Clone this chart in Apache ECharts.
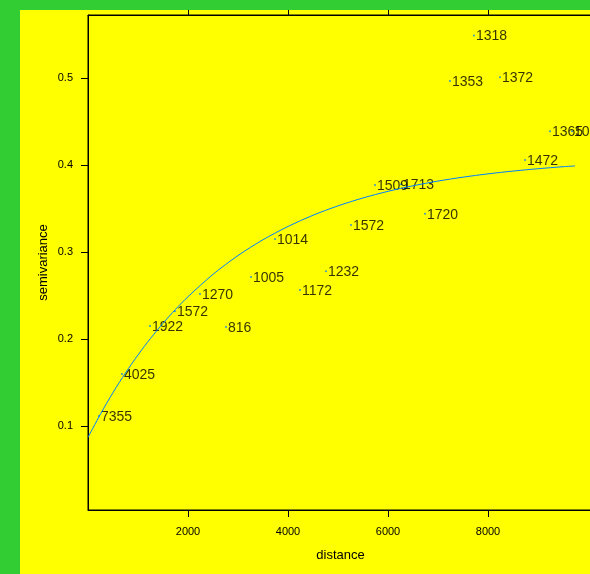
<!DOCTYPE html>
<html>
<head>
<meta charset="utf-8">
<script src="https://cdn.jsdelivr.net/npm/echarts@6/dist/echarts.min.js"></script>
<style>
  html, body { margin: 0; padding: 0; }
  body { width: 590px; height: 574px; background: #32cd32; position: relative; overflow: hidden; }
  #main { position: absolute; left: 20px; top: 10px; width: 576px; height: 564px; }
</style>
</head>
<body>
<div id="main"></div>
<script>
// sample variogram: distance, semivariance, number of pairs
var dist  = [220, 680, 1240, 1740, 2240, 2760, 3260, 3740, 4240, 4760, 5260, 5740, 6260, 6740, 7240, 7720, 8240, 8740, 9240, 9680];
var gamma = [0.1115, 0.1598, 0.215, 0.232, 0.2517, 0.2138, 0.2713, 0.315, 0.2563, 0.278, 0.331, 0.377, 0.378, 0.344, 0.4966, 0.549, 0.501, 0.4057, 0.439, 0.439];
var npairs = ['7355', '4025', '1922', '1572', '1270', '816', '1005', '1014', '1172', '1232', '1572', '1509', '1713', '1720', '1353', '1318', '1372', '1472', '1365', '1064'];

// fitted model line
var modelDist  = [0, 250, 500, 750, 1000, 1250, 1500, 1750, 2000, 2500, 3000, 3500, 4000, 4500, 5000, 5500, 6000, 6500, 7000, 7500, 8000, 8500, 9000, 9500, 9740];
var modelGamma = [0.087, 0.1138, 0.1385, 0.1611, 0.1817, 0.2007, 0.2181, 0.2341, 0.2487, 0.2744, 0.296, 0.3142, 0.3294, 0.3423, 0.3531, 0.3622, 0.3698, 0.3762, 0.3816, 0.3861, 0.3899, 0.3931, 0.3958, 0.3981, 0.399];

var xTicks = [2000, 4000, 6000, 8000];
var yTicks = [0.1, 0.2, 0.3, 0.4, 0.5];

var points = dist.map(function (d, i) { return [d, gamma[i], npairs[i]]; });
var model = modelDist.map(function (d, i) { return [d, modelGamma[i]]; });

var font = '"Liberation Sans", Arial, Helvetica, sans-serif';

var chart = echarts.init(document.getElementById('main'));
chart.setOption({
  backgroundColor: '#ffff00',
  animation: false,
  grid: {
    left: 68, top: 5, right: 3, bottom: 64,
    show: true, borderColor: '#000', borderWidth: 1, backgroundColor: 'transparent'
  },
  xAxis: [{
    type: 'value', min: 0, max: 10100, position: 'bottom',
    name: 'distance', nameLocation: 'middle', nameGap: 39,
    nameTextStyle: { fontFamily: font, fontSize: 13, color: '#000' },
    axisLine: { show: true, lineStyle: { color: '#000', width: 1 } },
    axisTick: { show: true, inside: false, length: 7, customValues: xTicks, lineStyle: { color: '#000' } },
    axisLabel: {
      show: true, margin: 16, customValues: xTicks, fontFamily: font, fontSize: 11, color: '#000',
      formatter: function (v) { return String(v); }
    },
    splitLine: { show: false }
  }, {
    type: 'value', min: 0, max: 10100, position: 'top',
    axisLine: { show: true, lineStyle: { color: '#000', width: 1 } },
    axisTick: { show: true, inside: false, length: 7, customValues: xTicks, lineStyle: { color: '#000' } },
    axisLabel: { show: false },
    splitLine: { show: false }
  }],
  yAxis: {
    type: 'value', min: 0.0035, max: 0.5725,
    name: 'semivariance', nameLocation: 'middle', nameGap: 38, nameMoveOverlap: false,
    nameTextStyle: { fontFamily: font, fontSize: 13, color: '#000' },
    axisLine: { show: true, lineStyle: { color: '#000', width: 1 } },
    axisTick: { show: true, inside: false, length: 7, customValues: yTicks, lineStyle: { color: '#000' } },
    axisLabel: { show: true, margin: 15, customValues: yTicks, fontFamily: font, fontSize: 11, color: '#000' },
    splitLine: { show: false }
  },
  series: [{
    type: 'scatter',
    data: points,
    symbol: 'circle',
    symbolSize: 2,
    itemStyle: { color: '#0080ff' },
    z: 2,
    label: {
      show: true, position: 'right', distance: 1, offset: [0, 1],
      formatter: function (p) { return p.data[2]; },
      fontFamily: font, fontSize: 14, color: '#000'
    }
  }, {
    type: 'line',
    data: model,
    smooth: 0.3,
    showSymbol: false,
    lineStyle: { color: '#0080ff', width: 1 },
    z: 3
  }]
});
</script>
</body>
</html>
